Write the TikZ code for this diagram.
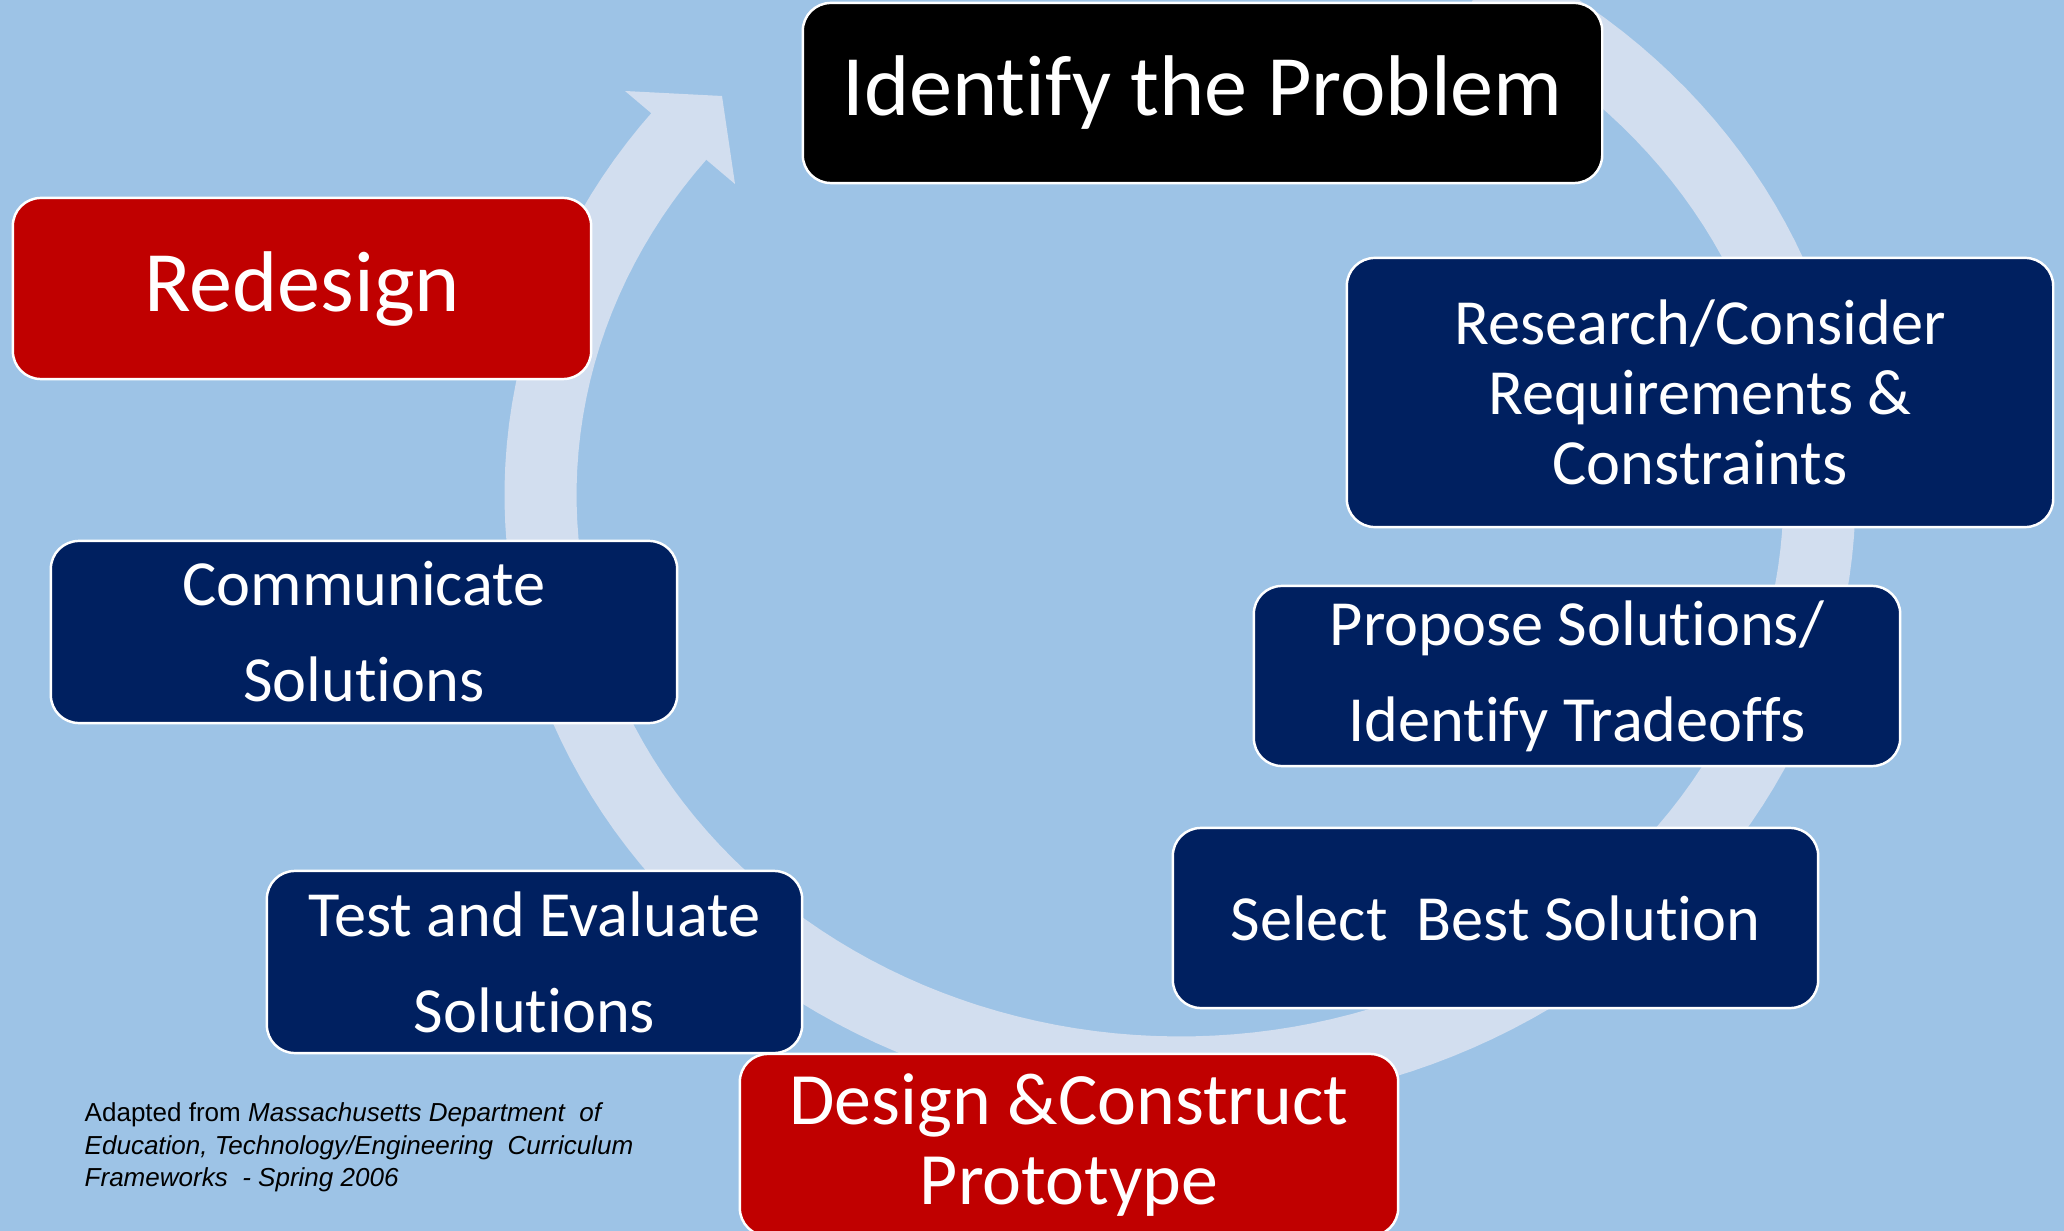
\documentclass[tikz,border=0pt]{standalone}
\usepackage{fontspec}
\setmainfont{Carlito}[Ligatures=NoCommon]
\newfontfamily\notefont{Liberation Sans}[Ligatures=NoCommon]
\usepackage{xcolor}
\usetikzlibrary{positioning}

\definecolor{bgblue}{HTML}{9DC3E6}
\definecolor{ringblue}{HTML}{D2DEEF}
\definecolor{navy}{HTML}{002060}
\definecolor{darkred}{HTML}{C00000}

\begin{document}
\begin{tikzpicture}[
  x=0.01cm, y=-0.01cm,
  block/.style={draw=white, line width=0.7pt, rounded corners=0.28cm, fill=navy,
                text=white, align=center, inner sep=0pt},
  rblock/.style={block, fill=darkred},
  kblock/.style={block, fill=black},
  ringarc/.style={draw=ringblue, line width=0.72cm},
  bigtext/.style={font=\fontsize{24.5}{30}\selectfont},
  midtext/.style={font=\fontsize{18.3}{27.3}\selectfont},
  tighttext/.style={font=\fontsize{18.3}{19.9}\selectfont}
]
  % Background
  \fill[bgblue] (0,0) rectangle (2064,1231);
  \useasboundingbox (0,0) rectangle (2064,1231);

  % Cycle arrow
  \draw[ringarc] plot[domain=-62:218.6, samples=150]
    ({1180+639.5*cos(\x)},{495+577.5*sin(\x)});
  \coordinate (headL) at (625,91);
  \coordinate (headtip) at (722,96);
  \coordinate (headR) at (735,184);
  \fill[ringblue] (headL) -- (headtip) -- (headR) -- cycle;

  % Steps
  \node[kblock, bigtext, minimum width=7.99cm, minimum height=1.80cm] (problem)
    at (1202.5,93) {Identify the Problem};
  \node[block, tighttext, minimum width=7.06cm, minimum height=2.69cm] (research)
    at (1700,392.5) {Research/Consider\\Requirements \&\\Constraints};
  \node[block, midtext, minimum width=6.46cm, minimum height=1.80cm] (propose)
    at (1577,676) {Propose Solutions/\\Identify Tradeoffs};
  \node[block, midtext, minimum width=6.45cm, minimum height=1.80cm] (select)
    at (1495.5,918) {Select~ Best Solution};
  \node[rblock, font=\fontsize{21}{22.5}\selectfont, minimum width=6.58cm,
        minimum height=1.82cm] (design)
    at (1069,1145) {Design \&Construct\\Prototype};
  \node[block, midtext, minimum width=5.35cm, minimum height=1.82cm] (test)
    at (534.5,962) {Test and Evaluate\\Solutions};
  \node[block, midtext, minimum width=6.26cm, minimum height=1.82cm] (communicate)
    at (364,632) {Communicate\\Solutions};
  \node[rblock, bigtext, minimum width=5.78cm, minimum height=1.81cm] (redesign)
    at (302,288.5) {Redesign};

  % Source note
  \node[anchor=north west, align=left, inner sep=0pt,
        font=\notefont\fontsize{7.4}{9.3}\selectfont] (source) at (84,1102)
    {Adapted from \textit{Massachusetts Department\ \ of}\\
     \textit{Education, Technology/Engineering\ \ Curriculum}\\
     \textit{Frameworks\ \ - Spring 2006}};
\end{tikzpicture}
\end{document}
